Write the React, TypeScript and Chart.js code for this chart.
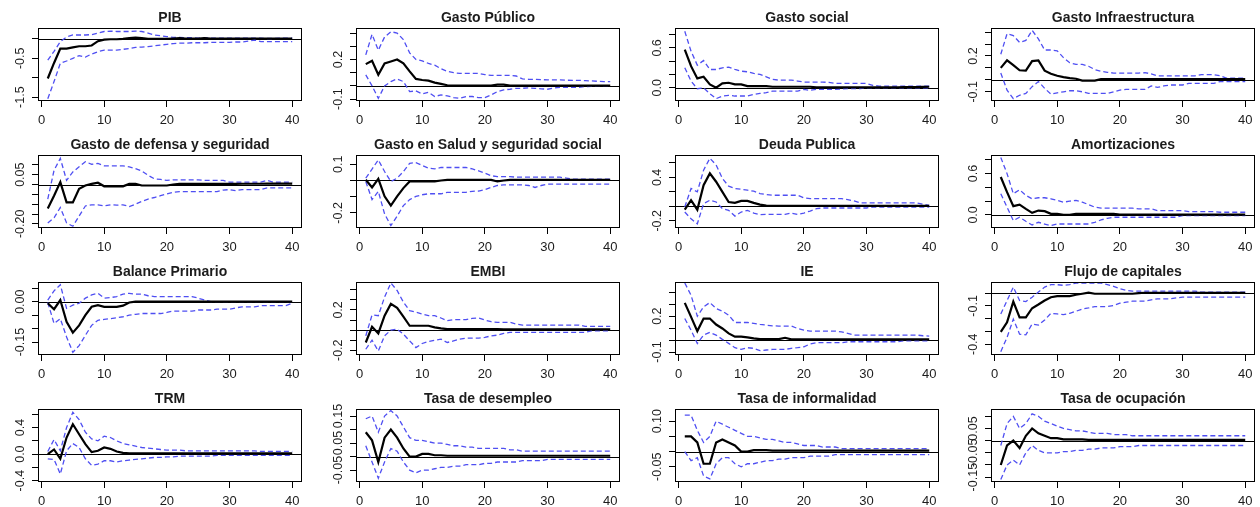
import React, { useEffect, useRef } from "react";
import { Chart, registerables } from "chart.js";
Chart.register(...registerables);

const HORIZON = [1,2,3,4,5,6,7,8,9,10,11,12,13,14,15,16,17,18,19,20,21,22,23,24,25,26,27,28,29,30,31,32,33,34,35,36,37,38,39,40];
const X_TICKS = [0, 10, 20, 30, 40];

const TITLES = [
  "PIB", "Gasto Público", "Gasto social", "Gasto Infraestructura",
  "Gasto de defensa y seguridad", "Gasto en Salud y seguridad social", "Deuda Publica", "Amortizaciones",
  "Balance Primario", "EMBI", "IE", "Flujo de capitales",
  "TRM", "Tasa de desempleo", "Tasa de informalidad", "Tasa de ocupación",
];

// ---- Panel 1: PIB
const PIB_IRF = [-1.02,-0.62,-0.25,-0.25,-0.22,-0.19,-0.19,-0.17,-0.06,-0.02,
  -0.01,-0.01,0.00,0.02,0.03,0.02,0.00,0.00,0.00,0.00,
  0.01,0.02,0.01,0.01,0.01,0.02,0.01,0.01,0.01,0.01,
  0.01,0.01,0.01,0.01,0.01,0.01,0.01,0.01,0.01,0.01];
const PIB_HI = [-0.55,-0.32,-0.07,0.05,0.10,0.10,0.10,0.11,0.15,0.19,
  0.20,0.19,0.19,0.19,0.20,0.19,0.15,0.10,0.08,0.06,
  0.04,0.04,0.03,0.03,0.02,0.03,0.02,0.02,0.02,0.02,
  0.02,0.02,0.02,0.02,0.02,0.01,0.01,0.02,0.02,0.02];
const PIB_LO = [-1.54,-1.10,-0.63,-0.57,-0.50,-0.43,-0.47,-0.39,-0.33,-0.29,
  -0.29,-0.29,-0.27,-0.25,-0.22,-0.21,-0.20,-0.18,-0.16,-0.14,
  -0.12,-0.11,-0.11,-0.10,-0.10,-0.10,-0.09,-0.09,-0.09,-0.09,
  -0.08,-0.08,-0.06,-0.03,-0.07,-0.07,-0.07,-0.07,-0.07,-0.07];

// ---- Panel 2: Gasto Público
const GP_IRF = [0.165,0.19,0.085,0.17,0.185,0.20,0.17,0.11,0.053,0.045,
  0.04,0.025,0.015,0.005,0.003,0.003,0.003,0.003,0.003,0.003,
  0.003,0.01,0.01,0.003,0.002,0.002,0.002,0.002,0.002,0.002,
  0.002,0.002,0.002,0.002,0.002,0.002,0.002,0.002,0.002,0.002];
const GP_HI = [0.235,0.39,0.27,0.37,0.41,0.40,0.35,0.25,0.20,0.19,
  0.17,0.157,0.13,0.11,0.10,0.095,0.095,0.095,0.095,0.086,
  0.08,0.08,0.08,0.08,0.075,0.053,0.05,0.05,0.048,0.045,
  0.045,0.045,0.043,0.042,0.042,0.04,0.038,0.035,0.033,0.033];
const GP_LO = [0.084,0.0,-0.094,0.0,0.033,0.053,0.033,-0.043,-0.038,-0.06,
  -0.048,-0.08,-0.068,-0.075,-0.088,-0.094,-0.08,-0.08,-0.088,-0.088,
  -0.068,-0.043,-0.03,-0.025,-0.018,-0.018,-0.015,-0.018,-0.022,-0.025,
  -0.015,-0.01,-0.01,-0.01,-0.01,-0.005,-0.003,0.0,0.0,0.0];

// ---- Panel 3: Gasto social
const GS_IRF = [0.575,0.325,0.14,0.165,0.05,0.0,0.065,0.075,0.05,0.05,
  0.025,0.025,0.025,0.025,0.015,0.015,0.015,0.015,0.015,0.015,
  0.015,0.005,0.005,0.005,0.005,0.005,0.005,0.005,0.005,0.005,
  0.005,0.005,0.005,0.005,0.005,0.008,0.01,0.01,0.012,0.015];
const GS_HI = [0.85,0.55,0.34,0.41,0.275,0.275,0.30,0.31,0.275,0.25,
  0.24,0.215,0.20,0.165,0.125,0.115,0.115,0.115,0.10,0.085,
  0.085,0.085,0.085,0.08,0.065,0.065,0.065,0.065,0.065,0.065,
  0.035,0.025,0.025,0.025,0.025,0.025,0.025,0.025,0.025,0.025];
const GS_LO = [0.30,0.10,-0.015,0.0,-0.09,-0.165,-0.125,-0.115,-0.125,-0.125,
  -0.125,-0.10,-0.085,-0.075,-0.05,-0.05,-0.05,-0.05,-0.05,-0.025,
  -0.04,-0.025,-0.025,-0.025,-0.025,-0.02,-0.015,-0.015,-0.015,0.0,
  0.0,0.0,0.0,0.0,0.0,0.0,0.0,0.0,0.0,0.0];

// ---- Panel 4: Gasto Infraestructura
const GI_IRF = [0.10,0.163,0.123,0.08,0.077,0.157,0.163,0.077,0.051,0.034,
  0.023,0.014,0.009,-0.006,-0.006,-0.006,0.006,0.006,0.006,0.006,
  0.006,0.006,0.006,0.006,0.006,0.006,0.006,0.006,0.006,0.006,
  0.006,0.006,0.006,0.006,0.006,0.006,0.006,0.006,0.006,0.006];
const GI_HI = [0.214,0.386,0.37,0.314,0.33,0.414,0.343,0.25,0.25,0.243,
  0.186,0.143,0.129,0.129,0.114,0.086,0.071,0.063,0.057,0.057,
  0.057,0.057,0.057,0.06,0.051,0.034,0.034,0.034,0.034,0.034,
  0.034,0.034,0.043,0.043,0.043,0.034,0.014,0.014,0.014,0.014];
const GI_LO = [0.057,-0.086,-0.157,-0.129,-0.114,-0.057,-0.014,-0.071,-0.12,-0.109,
  -0.10,-0.091,-0.091,-0.10,-0.114,-0.114,-0.114,-0.114,-0.10,-0.086,
  -0.08,-0.08,-0.08,-0.08,-0.051,-0.063,-0.051,-0.043,-0.043,-0.043,
  -0.029,-0.029,-0.029,-0.029,-0.029,-0.014,-0.014,-0.014,-0.014,-0.014];

// ---- Panel 5: Gasto de defensa y seguridad
const GD_IRF = [-0.122,-0.057,0.012,-0.091,-0.091,-0.022,-0.005,0.003,0.009,-0.009,
  -0.009,-0.009,-0.009,0.003,0.003,-0.005,-0.005,-0.005,-0.005,-0.005,
  0.0,0.003,0.003,0.003,0.003,0.003,0.003,0.003,0.003,0.003,
  0.003,0.004,0.004,0.004,0.004,0.005,0.005,0.005,0.005,0.005];
const GD_HI = [-0.074,0.072,0.133,0.021,0.064,0.09,0.116,0.103,0.107,0.095,
  0.095,0.095,0.095,0.09,0.081,0.069,0.047,0.029,0.026,0.021,
  0.024,0.024,0.024,0.024,0.024,0.021,0.021,0.021,0.021,0.012,
  0.012,0.012,0.012,0.012,0.012,0.021,0.012,0.012,0.012,0.012];
const GD_LO = [-0.195,-0.169,-0.117,-0.195,-0.212,-0.16,-0.109,-0.103,-0.103,-0.109,
  -0.103,-0.105,-0.103,-0.112,-0.10,-0.086,-0.074,-0.066,-0.057,-0.048,
  -0.04,-0.036,-0.036,-0.036,-0.036,-0.036,-0.036,-0.036,-0.028,-0.026,
  -0.031,-0.026,-0.026,-0.026,-0.026,-0.017,-0.017,-0.017,-0.017,-0.017];

// ---- Panel 6: Gasto en Salud y seguridad social
const GSS_IRF = [0.004,-0.043,0.01,-0.098,-0.155,-0.098,-0.047,-0.006,-0.006,-0.006,
  -0.006,-0.006,0.0,0.004,0.004,0.004,0.004,0.004,0.004,0.004,
  0.004,-0.006,0.0,0.004,0.004,0.004,0.004,0.004,0.004,0.004,
  0.004,0.004,0.004,0.004,0.004,0.004,0.004,0.004,0.004,0.004];
const GSS_HI = [0.014,0.07,0.127,0.055,-0.006,0.014,0.055,0.106,0.11,0.092,
  0.076,0.071,0.08,0.08,0.08,0.08,0.08,0.071,0.059,0.045,
  0.029,0.024,0.024,0.024,0.02,0.02,0.02,0.02,0.02,0.02,
  0.02,0.02,0.014,0.008,0.008,0.008,0.008,0.008,0.008,0.008];
const GSS_LO = [-0.006,-0.118,-0.067,-0.206,-0.278,-0.22,-0.155,-0.118,-0.098,-0.088,
  -0.082,-0.082,-0.082,-0.073,-0.073,-0.073,-0.073,-0.067,-0.065,-0.057,
  -0.043,-0.031,-0.027,-0.027,-0.027,-0.027,-0.031,-0.043,-0.031,-0.022,
  -0.022,-0.022,-0.022,-0.022,-0.022,-0.022,-0.022,-0.022,-0.022,-0.022];

// ---- Panel 7: Deuda Publica
const DP_IRF = [-0.047,0.084,-0.047,0.293,0.456,0.34,0.20,0.06,0.047,0.074,
  0.074,0.047,0.023,0.009,0.005,0.005,0.005,0.005,0.005,0.005,
  0.005,0.005,0.005,0.005,0.005,0.005,0.005,0.005,0.005,0.005,
  0.005,0.005,0.005,0.005,0.005,0.005,0.005,0.005,0.008,0.005];
const DP_HI = [-0.01,0.247,0.20,0.50,0.665,0.572,0.386,0.279,0.247,0.237,
  0.223,0.209,0.177,0.163,0.153,0.153,0.153,0.153,0.153,0.116,
  0.107,0.107,0.107,0.107,0.107,0.107,0.093,0.074,0.047,0.047,
  0.047,0.047,0.047,0.047,0.047,0.047,0.047,0.047,0.028,0.014];
const DP_LO = [-0.079,-0.172,-0.242,0.037,0.084,0.06,-0.033,-0.056,-0.135,-0.079,
  -0.056,-0.093,-0.116,-0.112,-0.112,-0.112,-0.112,-0.093,-0.112,-0.093,
  -0.065,-0.033,-0.023,-0.023,-0.023,-0.023,-0.023,-0.023,-0.023,-0.023,
  -0.01,-0.01,-0.01,-0.01,-0.01,-0.01,-0.01,-0.01,-0.01,-0.01];

// ---- Panel 8: Amortizaciones
const AM_IRF = [0.55,0.33,0.127,0.15,0.088,0.03,0.063,0.054,0.015,0.015,
  0.0,0.0,0.015,0.015,0.015,0.015,0.015,0.015,0.015,0.005,
  0.005,0.005,0.005,0.005,0.005,0.005,0.005,0.005,0.005,0.005,
  0.005,0.005,0.005,0.005,0.005,0.005,0.005,0.005,0.005,0.005];
const AM_HI = [0.834,0.60,0.307,0.366,0.283,0.234,0.249,0.249,0.234,0.21,
  0.185,0.20,0.21,0.185,0.15,0.112,0.10,0.098,0.098,0.098,
  0.098,0.098,0.088,0.088,0.088,0.063,0.063,0.063,0.063,0.063,
  0.049,0.049,0.049,0.049,0.049,0.039,0.039,0.039,0.039,0.039];
const AM_LO = [0.307,0.112,-0.083,-0.034,-0.093,-0.146,-0.107,-0.132,-0.156,-0.132,
  -0.132,-0.132,-0.132,-0.132,-0.132,-0.107,-0.073,-0.049,-0.034,-0.034,
  -0.034,-0.034,-0.034,-0.034,-0.034,-0.034,-0.034,-0.034,-0.034,-0.01,
  -0.01,-0.01,-0.01,-0.01,-0.01,-0.01,-0.01,-0.01,-0.01,-0.01];

// ---- Panel 9: Balance Primario
const BP_IRF = [-0.006,-0.028,0.006,-0.075,-0.115,-0.088,-0.05,-0.019,-0.013,-0.019,
  -0.019,-0.019,-0.015,-0.003,0.0,0.0,0.0,0.0,0.0,0.0,
  0.0,0.0,0.0,0.0,0.0,0.0,0.0,0.0,0.0,0.0,
  0.0,0.0,0.0,0.0,0.0,0.0,0.0,0.0,0.0,0.0];
const BP_HI = [0.006,0.04,0.063,-0.025,-0.013,-0.006,0.013,0.025,0.031,0.013,
  0.015,0.019,0.028,0.031,0.028,0.028,0.022,0.019,0.019,0.019,
  0.019,0.019,0.019,0.019,0.013,0.006,0.0,0.0,0.0,0.0,
  0.0,0.0,0.0,0.0,0.0,0.0,0.0,0.0,0.0,0.0];
const BP_LO = [-0.003,-0.081,-0.063,-0.131,-0.188,-0.163,-0.125,-0.088,-0.069,-0.066,
  -0.063,-0.06,-0.056,-0.05,-0.047,-0.044,-0.044,-0.044,-0.044,-0.04,
  -0.035,-0.035,-0.035,-0.035,-0.031,-0.031,-0.031,-0.028,-0.028,-0.028,
  -0.023,-0.019,-0.019,-0.019,-0.015,-0.015,-0.015,-0.015,-0.015,-0.006];

// ---- Panel 10: EMBI
const EM_IRF = [-0.123,0.033,-0.033,0.143,0.26,0.22,0.133,0.043,0.043,0.043,
  0.043,0.027,0.017,0.01,0.01,0.01,0.01,0.01,0.01,0.01,
  0.01,0.01,0.007,0.007,0.007,0.007,0.007,0.007,0.007,0.007,
  0.007,0.007,0.007,0.007,0.007,0.007,0.007,0.007,0.007,0.007];
const EM_HI = [-0.057,0.15,0.143,0.327,0.467,0.393,0.277,0.193,0.177,0.16,
  0.143,0.143,0.12,0.093,0.103,0.103,0.103,0.117,0.12,0.10,
  0.083,0.077,0.077,0.077,0.06,0.05,0.05,0.05,0.05,0.05,
  0.05,0.05,0.05,0.05,0.05,0.037,0.037,0.037,0.037,0.037];
const EM_LO = [-0.19,-0.10,-0.207,-0.057,0.0,0.01,-0.04,-0.107,-0.173,-0.133,
  -0.113,-0.10,-0.09,-0.123,-0.107,-0.09,-0.08,-0.08,-0.08,-0.073,
  -0.057,-0.05,-0.033,-0.023,-0.023,-0.023,-0.023,-0.023,-0.023,-0.023,
  -0.023,-0.023,-0.023,-0.023,-0.023,-0.023,-0.007,-0.007,-0.007,-0.007];

// ---- Panel 11: IE
const IE_IRF = [0.311,0.194,0.075,0.18,0.18,0.13,0.097,0.056,0.028,0.028,
  0.022,0.014,0.008,0.008,0.008,0.008,0.019,0.006,0.006,0.006,
  0.006,0.006,0.006,0.006,0.006,0.006,0.006,0.006,0.006,0.006,
  0.006,0.006,0.006,0.006,0.006,0.006,0.006,0.006,0.006,0.006];
const IE_HI = [0.478,0.375,0.20,0.278,0.314,0.264,0.242,0.208,0.147,0.147,
  0.147,0.139,0.131,0.125,0.119,0.117,0.117,0.117,0.097,0.083,
  0.075,0.075,0.075,0.075,0.075,0.069,0.056,0.042,0.042,0.042,
  0.042,0.042,0.042,0.042,0.042,0.042,0.042,0.042,0.036,0.033];
const IE_LO = [0.18,0.083,-0.028,0.042,0.064,0.042,0.006,-0.028,-0.064,-0.078,
  -0.064,-0.069,-0.089,-0.083,-0.078,-0.078,-0.078,-0.069,-0.064,-0.056,
  -0.033,-0.022,-0.022,-0.022,-0.022,-0.022,-0.014,-0.014,-0.014,-0.014,
  -0.014,-0.014,-0.014,-0.014,-0.014,-0.006,-0.006,-0.006,-0.006,-0.006];

// ---- Panel 12: Flujo de capitales
const FC_IRF = [-0.303,-0.229,-0.066,-0.189,-0.189,-0.118,-0.089,-0.058,-0.032,-0.024,
  -0.024,-0.024,-0.013,-0.005,0.003,-0.005,-0.005,-0.005,-0.005,-0.005,
  -0.005,-0.005,0.0,0.003,0.003,0.003,0.003,0.003,0.003,0.003,
  0.003,0.003,0.003,0.003,0.003,0.003,0.003,0.003,0.003,0.003];
const FC_HI = [-0.163,-0.058,0.047,-0.058,-0.066,-0.032,0.008,0.047,0.066,0.066,
  0.061,0.066,0.079,0.079,0.079,0.079,0.079,0.066,0.053,0.034,
  0.021,0.016,0.016,0.016,0.016,0.016,0.016,0.016,0.016,0.016,
  0.016,0.016,0.008,0.008,0.008,0.008,0.008,0.008,0.008,0.008];
const FC_LO = [-0.458,-0.347,-0.203,-0.321,-0.326,-0.242,-0.25,-0.21,-0.158,-0.163,
  -0.168,-0.158,-0.142,-0.124,-0.116,-0.105,-0.105,-0.105,-0.097,-0.079,
  -0.071,-0.063,-0.063,-0.063,-0.053,-0.045,-0.045,-0.045,-0.037,-0.032,
  -0.032,-0.032,-0.032,-0.032,-0.032,-0.032,-0.032,-0.032,-0.032,-0.032];

// ---- Panel 13: TRM
const TRM_IRF = [0.00,0.07,-0.07,0.25,0.45,0.30,0.15,0.03,0.05,0.10,
  0.08,0.04,0.02,0.01,0.01,0.01,0.01,0.01,0.01,0.01,
  0.01,0.01,0.01,0.01,0.01,0.01,0.01,0.01,0.01,0.01,
  0.01,0.01,0.01,0.01,0.01,0.01,0.01,0.01,0.01,0.01];
const TRM_HI = [0.04,0.22,0.05,0.40,0.63,0.52,0.33,0.23,0.20,0.27,
  0.25,0.20,0.16,0.14,0.12,0.10,0.09,0.08,0.07,0.06,
  0.06,0.06,0.05,0.05,0.05,0.05,0.05,0.05,0.05,0.05,
  0.05,0.05,0.05,0.05,0.04,0.04,0.04,0.04,0.04,0.04];
const TRM_LO = [-0.07,-0.08,-0.30,0.05,0.16,0.10,-0.07,-0.17,-0.15,-0.10,
  -0.10,-0.12,-0.10,-0.09,-0.08,-0.07,-0.06,-0.05,-0.05,-0.04,
  -0.04,-0.03,-0.03,-0.03,-0.03,-0.03,-0.03,-0.02,-0.02,-0.02,
  -0.02,-0.02,-0.02,-0.02,-0.02,-0.02,-0.02,-0.02,-0.02,-0.02];

// ---- Panel 14: Tasa de desempleo
const TD_IRF = [0.09,0.06,-0.02,0.07,0.10,0.07,0.03,0.00,0.00,0.01,
  0.01,0.005,0.005,0.003,0.003,0.003,0.003,0.003,0.003,0.003,
  0.003,0.003,0.003,0.003,0.003,0.003,0.003,0.003,0.003,0.003,
  0.003,0.003,0.003,0.003,0.003,0.003,0.003,0.003,0.003,0.003];
const TD_HI = [0.14,0.15,0.09,0.15,0.17,0.15,0.11,0.07,0.06,0.06,
  0.055,0.05,0.05,0.045,0.04,0.04,0.035,0.035,0.03,0.03,
  0.03,0.03,0.03,0.025,0.025,0.02,0.02,0.02,0.02,0.02,
  0.02,0.02,0.02,0.02,0.02,0.02,0.02,0.02,0.02,0.02];
const TD_LO = [0.04,-0.02,-0.08,-0.02,0.03,0.02,-0.02,-0.05,-0.06,-0.05,
  -0.05,-0.045,-0.04,-0.04,-0.035,-0.035,-0.03,-0.03,-0.03,-0.025,
  -0.025,-0.02,-0.02,-0.02,-0.02,-0.015,-0.015,-0.015,-0.015,-0.01,
  -0.01,-0.01,-0.01,-0.01,-0.01,-0.01,-0.01,-0.01,-0.01,-0.01];

// ---- Panel 15: Tasa de informalidad
const TI_IRF = [0.05,0.05,0.03,-0.04,-0.04,0.03,0.04,0.03,0.02,0.00,
  0.00,0.005,0.005,0.005,0.003,0.003,0.003,0.003,0.003,0.003,
  0.003,0.003,0.003,0.003,0.003,0.003,0.003,0.003,0.003,0.003,
  0.003,0.003,0.003,0.003,0.003,0.003,0.003,0.003,0.003,0.003];
const TI_HI = [0.12,0.12,0.07,0.03,0.05,0.10,0.09,0.08,0.07,0.06,
  0.05,0.05,0.045,0.04,0.04,0.035,0.03,0.03,0.025,0.02,
  0.02,0.02,0.015,0.015,0.015,0.01,0.01,0.01,0.01,0.01,
  0.01,0.01,0.01,0.01,0.01,0.01,0.01,0.01,0.01,0.01];
const TI_LO = [0.00,-0.03,-0.02,-0.08,-0.09,-0.04,-0.02,-0.02,-0.04,-0.05,
  -0.04,-0.04,-0.035,-0.03,-0.03,-0.025,-0.025,-0.02,-0.02,-0.02,
  -0.015,-0.015,-0.015,-0.015,-0.01,-0.01,-0.01,-0.01,-0.01,-0.01,
  -0.01,-0.01,-0.01,-0.01,-0.01,-0.01,-0.01,-0.01,-0.01,-0.01];

// ---- Panel 16: Tasa de ocupación
const TO_IRF = [-0.10,-0.02,0.00,-0.03,0.02,0.05,0.03,0.02,0.01,0.01,
  0.005,0.005,0.005,0.005,0.003,0.003,0.003,0.003,0.003,0.003,
  0.003,0.003,0.003,0.003,0.003,0.003,0.003,0.003,0.003,0.003,
  0.003,0.003,0.003,0.003,0.003,0.003,0.003,0.003,0.003,0.003];
const TO_HI = [-0.02,0.07,0.10,0.05,0.07,0.11,0.10,0.08,0.07,0.06,
  0.05,0.045,0.04,0.04,0.035,0.03,0.03,0.03,0.025,0.025,
  0.025,0.02,0.02,0.02,0.02,0.02,0.02,0.02,0.02,0.02,
  0.02,0.02,0.02,0.02,0.02,0.02,0.02,0.02,0.02,0.02];
const TO_LO = [-0.16,-0.10,-0.08,-0.10,-0.05,-0.02,-0.04,-0.05,-0.05,-0.05,
  -0.045,-0.045,-0.04,-0.04,-0.035,-0.035,-0.03,-0.03,-0.03,-0.025,
  -0.025,-0.025,-0.02,-0.02,-0.02,-0.02,-0.02,-0.02,-0.02,-0.02,
  -0.02,-0.02,-0.02,-0.02,-0.02,-0.02,-0.02,-0.02,-0.02,-0.02];

const IRF = [PIB_IRF, GP_IRF, GS_IRF, GI_IRF, GD_IRF, GSS_IRF, DP_IRF, AM_IRF, BP_IRF, EM_IRF, IE_IRF, FC_IRF, TRM_IRF, TD_IRF, TI_IRF, TO_IRF];
const UPPER = [PIB_HI, GP_HI, GS_HI, GI_HI, GD_HI, GSS_HI, DP_HI, AM_HI, BP_HI, EM_HI, IE_HI, FC_HI, TRM_HI, TD_HI, TI_HI, TO_HI];
const LOWER = [PIB_LO, GP_LO, GS_LO, GI_LO, GD_LO, GSS_LO, DP_LO, AM_LO, BP_LO, EM_LO, IE_LO, FC_LO, TRM_LO, TD_LO, TI_LO, TO_LO];

// y-axis limits, tick values, and labelled ticks per panel
const Y_RANGES = [
  [-1.60, 0.28], [-0.114, 0.438], [-0.20, 0.90], [-0.177, 0.434],
  [-0.221, 0.150], [-0.293, 0.157], [-0.30, 0.71], [-0.19, 0.87],
  [-0.198, 0.073], [-0.247, 0.477], [-0.125, 0.486], [-0.484, 0.087],
  [-0.42, 0.68], [-0.094, 0.176], [-0.1, 0.14], [-0.17, 0.13],
];
const Y_TICKS = [
  [-1.5, -1.0, -0.5, 0.0], [-0.1, 0.0, 0.1, 0.2, 0.3, 0.4], [0.0, 0.2, 0.4, 0.6, 0.8], [-0.1, 0.0, 0.1, 0.2, 0.3, 0.4],
  [-0.2, -0.15, -0.1, -0.05, 0.0, 0.05, 0.1], [-0.2, -0.1, 0.0, 0.1], [-0.2, 0.0, 0.2, 0.4, 0.6], [0.0, 0.2, 0.4, 0.6, 0.8],
  [-0.15, -0.1, -0.05, 0.0, 0.05], [-0.2, -0.1, 0.0, 0.1, 0.2, 0.3, 0.4], [-0.1, 0.0, 0.1, 0.2, 0.3, 0.4], [-0.4, -0.3, -0.2, -0.1, 0.0],
  [-0.4, -0.2, 0.0, 0.2, 0.4, 0.6], [-0.05, 0.0, 0.05, 0.1, 0.15], [-0.05, 0.0, 0.05, 0.1], [-0.15, -0.1, -0.05, 0.0, 0.05, 0.1],
];
const Y_LABELS = [
  ["-1.5", "-0.5"], ["-0.1", "0.2"], ["0.0", "0.6"], ["-0.1", "0.2"],
  ["-0.20", "0.05"], ["-0.2", "0.1"], ["-0.2", "0.4"], ["0.0", "0.6"],
  ["-0.15", "0.00"], ["-0.2", "0.2"], ["-0.1", "0.2"], ["-0.4", "-0.1"],
  ["-0.4", "0.0", "0.4"], ["-0.05", "0.05", "0.15"], ["-0.05", "0.10"], ["-0.15", "-0.05", "0.05"],
];

const BOX_LEFT = [38, 356, 675, 991];
const BOX_TOP = [28, 155, 282, 409];
const BOX_W = 264;
const BOX_H = 73;
const PAD_L = 40;
const PAD_T = 28;
const PAD_R = 4;
const PAD_B = 26;
const FONT = "'Liberation Sans', Arial, Helvetica, sans-serif";
const INK = "#1c1c1c";
const BAND = "#4f4ff2";

function Panel({ idx }: { idx: number }) {
  const ref = useRef<HTMLCanvasElement | null>(null);
  const col = idx % 4;
  const row = Math.floor(idx / 4);
  const cw = PAD_L + BOX_W + PAD_R;
  const ch = PAD_T + BOX_H + PAD_B;

  useEffect(() => {
    const canvas = ref.current;
    if (!canvas) return;
    const pts = (arr: number[]) => HORIZON.map((h, i) => ({ x: h, y: arr[i] }));
    const decor = {
      id: "rdecor" + idx,
      beforeDatasetsDraw(chart: any) {
        const { ctx, chartArea } = chart;
        const y0 = Math.round(chart.scales.y.getPixelForValue(0)) + 0.5;
        ctx.save();
        ctx.strokeStyle = "#000";
        ctx.lineWidth = 1;
        ctx.beginPath();
        ctx.moveTo(chartArea.left, y0);
        ctx.lineTo(chartArea.right, y0);
        ctx.stroke();
        ctx.restore();
      },
      afterDraw(chart: any) {
        const { ctx, chartArea } = chart;
        ctx.save();
        ctx.strokeStyle = "#000";
        ctx.lineWidth = 1;
        ctx.strokeRect(chartArea.left + 0.5, chartArea.top + 0.5, chartArea.right - chartArea.left - 1, chartArea.bottom - chartArea.top - 1);
        ctx.fillStyle = INK;
        ctx.font = "bold 14px " + FONT;
        ctx.textAlign = "center";
        ctx.textBaseline = "alphabetic";
        ctx.fillText(TITLES[idx], (chartArea.left + chartArea.right) / 2, chartArea.top - 5.8);
        ctx.font = "12.5px " + FONT;
        for (const lab of Y_LABELS[idx]) {
          const py = chart.scales.y.getPixelForValue(Number(lab));
          ctx.save();
          ctx.translate(chartArea.left - 14.5, py);
          ctx.rotate(-Math.PI / 2);
          ctx.textAlign = "center";
          ctx.fillText(lab, 0, 0);
          ctx.restore();
        }
        ctx.restore();
      },
    };
    const chart = new Chart(canvas, {
      type: "line",
      data: {
        datasets: [
          { data: pts(IRF[idx]), borderColor: "#000", borderWidth: 2.2, pointRadius: 0, tension: 0, fill: false, order: 1 },
          { data: pts(UPPER[idx]), borderColor: BAND, borderWidth: 1.3, borderDash: [5, 3], pointRadius: 0, tension: 0, fill: false, order: 2 },
          { data: pts(LOWER[idx]), borderColor: BAND, borderWidth: 1.3, borderDash: [5, 3], pointRadius: 0, tension: 0, fill: false, order: 3 },
        ],
      },
      options: {
        responsive: false,
        animation: false,
        devicePixelRatio: 1,
        layout: { padding: { left: 0, top: PAD_T, right: PAD_R, bottom: 0 } },
        plugins: { legend: { display: false }, title: { display: false }, tooltip: { enabled: false } },
        events: [],
        scales: {
          x: {
            type: "linear",
            min: -0.56,
            max: 41.56,
            afterBuildTicks: (s: any) => { s.ticks = X_TICKS.map((v) => ({ value: v })); },
            afterFit: (s: any) => { s.height = PAD_B; },
            grid: { drawOnChartArea: false, drawTicks: true, tickLength: 6, color: "#000" },
            border: { display: false },
            ticks: { color: INK, font: { family: FONT, size: 13 }, padding: 6, maxRotation: 0, autoSkip: false },
          },
          y: {
            type: "linear",
            min: Y_RANGES[idx][0],
            max: Y_RANGES[idx][1],
            afterBuildTicks: (s: any) => { s.ticks = Y_TICKS[idx].map((v) => ({ value: v })); },
            afterFit: (s: any) => { s.width = PAD_L; },
            grid: { drawOnChartArea: false, drawTicks: true, tickLength: 6, color: "#000" },
            border: { display: false },
            ticks: { display: false },
          },
        },
      },
      plugins: [decor],
    } as any);
    return () => chart.destroy();
  }, [idx]);

  return (
    <canvas
      ref={ref}
      width={cw}
      height={ch}
      style={{ position: "absolute", left: BOX_LEFT[col] - PAD_L, top: BOX_TOP[row] - PAD_T, width: cw, height: ch }}
    />
  );
}

export default function App() {
  return (
    <div style={{ position: "fixed", left: 0, top: 0, width: 1260, height: 507, background: "#fff", overflow: "hidden" }}>
      {TITLES.map((_, i) => (
        <Panel key={i} idx={i} />
      ))}
    </div>
  );
}
